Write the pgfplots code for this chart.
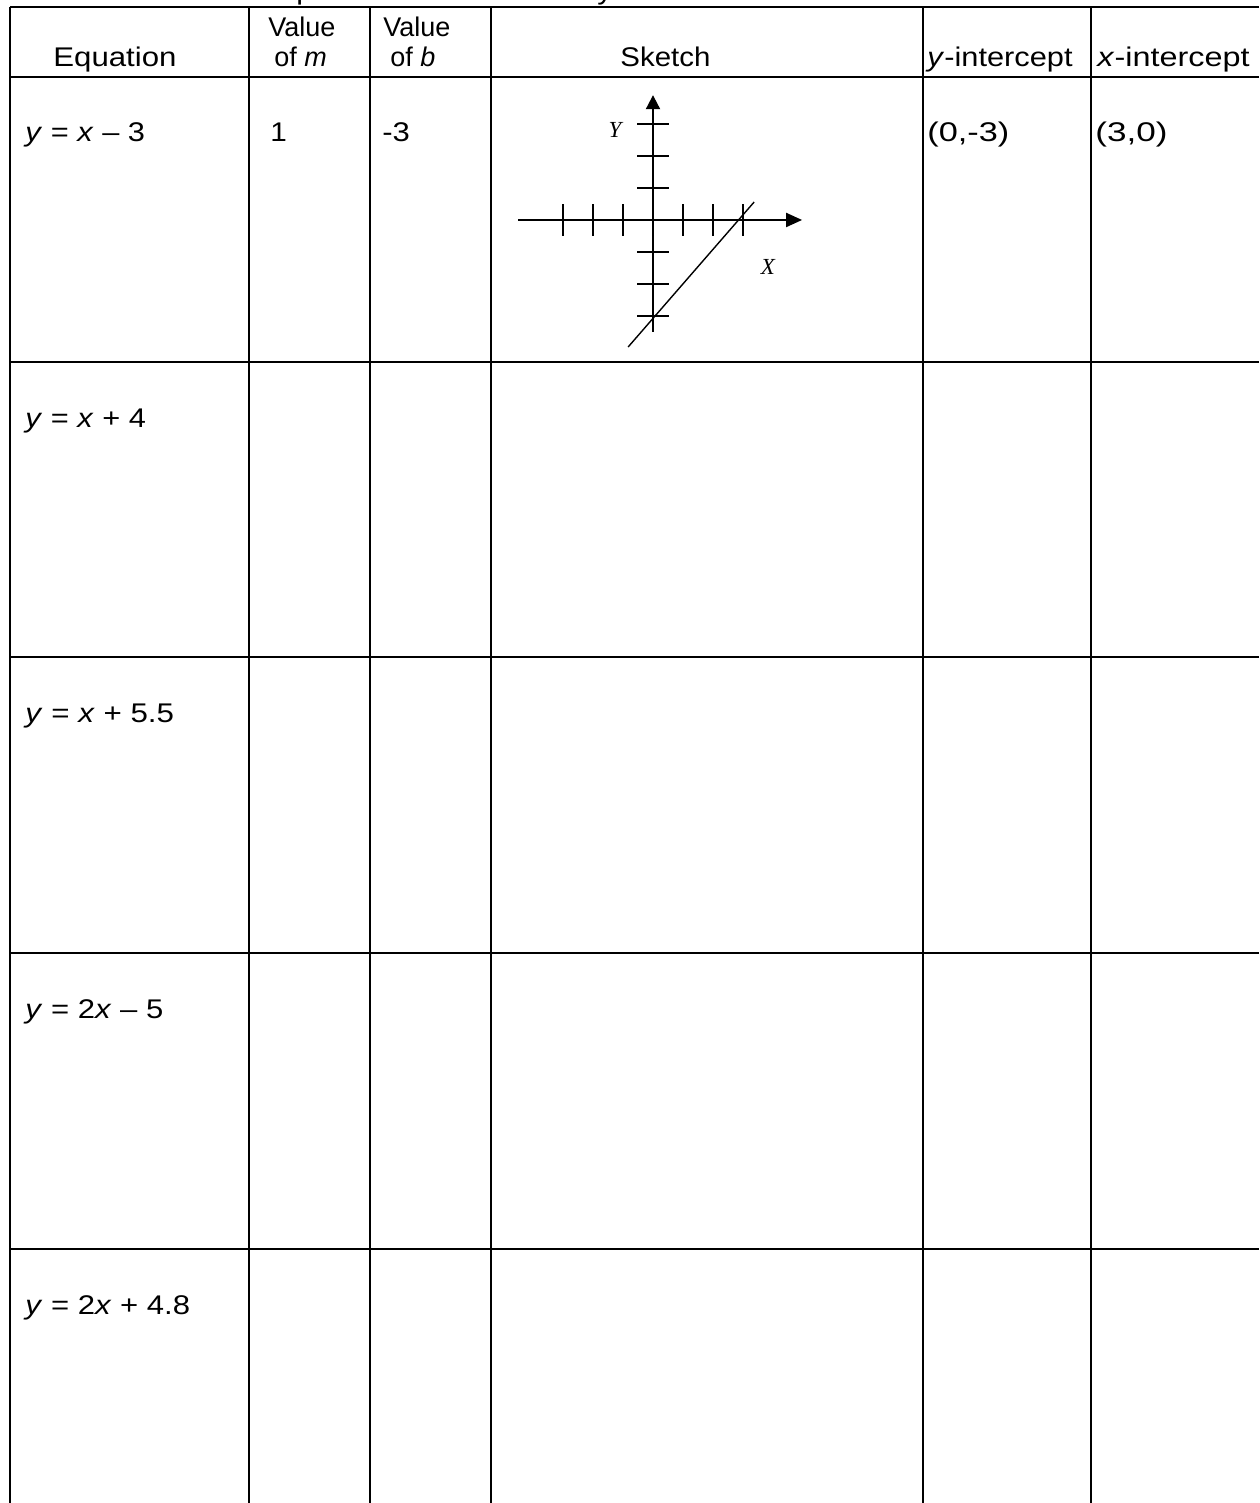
\documentclass[border=0pt]{standalone}
\usepackage{pgfplots}
\pgfplotsset{compat=1.18}
\usepackage{graphicx}
\usepackage{fontspec}
\setmainfont{Liberation Sans}
\newfontfamily\seriffont{Liberation Serif}
\usetikzlibrary{arrows.meta}
\tikzset{t/.style={anchor=base west, inner sep=0pt, font=\fontsize{13.5}{16}\selectfont}}
\newcommand\sx[2]{\scalebox{#1}[1]{#2}}
\begin{document}
\begin{tikzpicture}
\begin{axis}[name=main, scale only axis, width=629.5pt, height=751.5pt,
  xmin=0, xmax=1259, ymin=0, ymax=1503, y dir=reverse,
  axis lines=none, clip=false]
% table rules
\pgfplotsinvokeforeach{7.5,77,362,657,953,1249}{
  \draw[line width=1pt] (axis cs:10,#1) -- (axis cs:1259,#1);
}
\pgfplotsinvokeforeach{10,249,370,491,923,1091}{
  \draw[line width=1pt] (axis cs:#1,7.5) -- (axis cs:#1,1503);
}
% clipped line above the table
\node[anchor=base east, inner sep=0pt, font=\fontsize{13.5}{16}\selectfont] at (axis cs:655,0) {\sx{1.12}{Complete the table. The first example has been done for you.}};
% header
\node[t] at (axis cs:53,67) {\sx{1.155}{Equation}};
\node[t] at (axis cs:268,37) {Value};
\node[t] at (axis cs:274,67) {of \textit{m}};
\node[t] at (axis cs:383,37) {Value};
\node[t] at (axis cs:390,67) {of \textit{b}};
\node[t] at (axis cs:620,67) {\sx{1.09}{Sketch}};
\node[t] at (axis cs:927,67) {\sx{1.14}{\textit{y}-intercept}};
\node[t] at (axis cs:1097,67) {\sx{1.2}{\textit{x}-intercept}};
% rows
\node[t] at (axis cs:25,142) {\sx{1.14}{\textit{y} = \textit{x} – 3}};
\node[t] at (axis cs:270,142) {\sx{1.1}{1}};
\node[t] at (axis cs:382,142) {\sx{1.15}{-3}};
\node[t] at (axis cs:927,142) {\sx{1.27}{(0,-3)}};
\node[t] at (axis cs:1095,142) {\sx{1.3}{(3,0)}};
\node[t] at (axis cs:25,427) {\sx{1.14}{\textit{y} = \textit{x} + 4}};
\node[t] at (axis cs:25,722) {\sx{1.16}{\textit{y} = \textit{x} + 5.5}};
\node[t] at (axis cs:25,1018) {\sx{1.15}{\textit{y} = 2\textit{x} – 5}};
\node[t] at (axis cs:25,1314) {\sx{1.15}{\textit{y} = 2\textit{x} + 4.8}};
\coordinate (o) at (axis cs:653,220);
\end{axis}
\begin{axis}[at={(o)}, anchor=origin, x=15pt, y=16pt,
  xmin=-4.5, xmax=4.97, ymin=-3.5, ymax=3.9,
  axis lines=middle,
  axis line style={line width=1pt, -{Triangle[length=7.5pt,width=7pt]}},
  every inner x axis line/.append style={-{Triangle[length=8pt,width=7pt]}},
  every inner y axis line/.append style={-{Triangle[length=7pt,width=7pt]}},
  xtick={-3,-2,-1,1,2,3}, ytick={-3,-2,-1,1,2,3},
  xticklabels={}, yticklabels={},
  tick align=center, major tick length=16pt,
  tick style={line width=1pt, black},
  clip=false]
\addplot[black, line width=0.7pt] coordinates {(-0.83,-3.97) (3.37,0.56)};
\node[font=\seriffont\itshape\fontsize{11.5}{13}\selectfont] at (axis cs:-1.27,2.8) {Y};
\node[font=\seriffont\itshape\fontsize{11.5}{13}\selectfont] at (axis cs:3.83,-1.47) {X};
\end{axis}
\pgfresetboundingbox
\useasboundingbox (main.south west) rectangle (main.north east);
\end{tikzpicture}
\end{document}
